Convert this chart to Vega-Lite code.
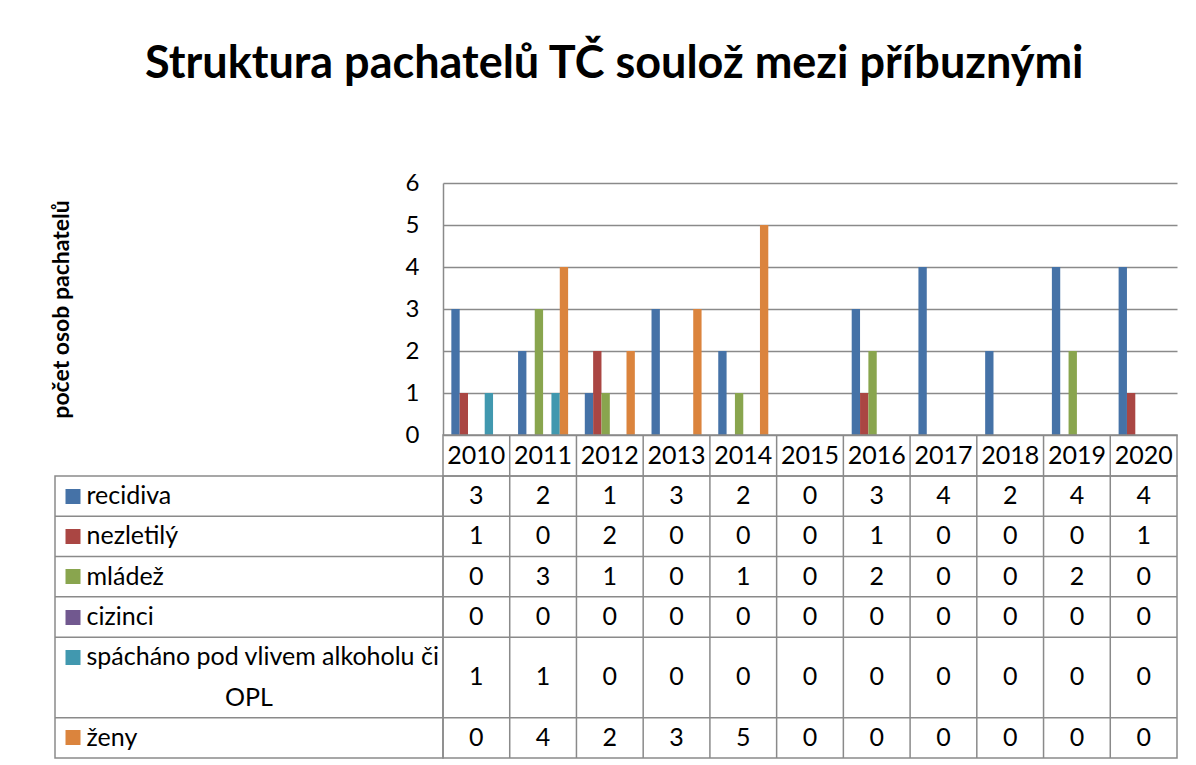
{
  "$schema": "https://vega.github.io/schema/vega-lite/v6.json",
  "padding": {"left": 50, "top": 42, "right": 0, "bottom": 0},
  "title": {"text": "Struktura pachatelů TČ soulož mezi příbuznými", "font": "Lato", "fontSize": 45, "fontWeight": "bold", "color": "#000000", "anchor": "middle", "offset": 84},
  "datasets": {
    "t": [
      {"rok": "2010", "s": "recidiva", "v": 3}, {"rok": "2010", "s": "nezletilý", "v": 1}, {"rok": "2010", "s": "mládež", "v": 0}, {"rok": "2010", "s": "cizinci", "v": 0}, {"rok": "2010", "s": "spácháno pod vlivem alkoholu či OPL", "v": 1}, {"rok": "2010", "s": "ženy", "v": 0},
      {"rok": "2011", "s": "recidiva", "v": 2}, {"rok": "2011", "s": "nezletilý", "v": 0}, {"rok": "2011", "s": "mládež", "v": 3}, {"rok": "2011", "s": "cizinci", "v": 0}, {"rok": "2011", "s": "spácháno pod vlivem alkoholu či OPL", "v": 1}, {"rok": "2011", "s": "ženy", "v": 4},
      {"rok": "2012", "s": "recidiva", "v": 1}, {"rok": "2012", "s": "nezletilý", "v": 2}, {"rok": "2012", "s": "mládež", "v": 1}, {"rok": "2012", "s": "cizinci", "v": 0}, {"rok": "2012", "s": "spácháno pod vlivem alkoholu či OPL", "v": 0}, {"rok": "2012", "s": "ženy", "v": 2},
      {"rok": "2013", "s": "recidiva", "v": 3}, {"rok": "2013", "s": "nezletilý", "v": 0}, {"rok": "2013", "s": "mládež", "v": 0}, {"rok": "2013", "s": "cizinci", "v": 0}, {"rok": "2013", "s": "spácháno pod vlivem alkoholu či OPL", "v": 0}, {"rok": "2013", "s": "ženy", "v": 3},
      {"rok": "2014", "s": "recidiva", "v": 2}, {"rok": "2014", "s": "nezletilý", "v": 0}, {"rok": "2014", "s": "mládež", "v": 1}, {"rok": "2014", "s": "cizinci", "v": 0}, {"rok": "2014", "s": "spácháno pod vlivem alkoholu či OPL", "v": 0}, {"rok": "2014", "s": "ženy", "v": 5},
      {"rok": "2015", "s": "recidiva", "v": 0}, {"rok": "2015", "s": "nezletilý", "v": 0}, {"rok": "2015", "s": "mládež", "v": 0}, {"rok": "2015", "s": "cizinci", "v": 0}, {"rok": "2015", "s": "spácháno pod vlivem alkoholu či OPL", "v": 0}, {"rok": "2015", "s": "ženy", "v": 0},
      {"rok": "2016", "s": "recidiva", "v": 3}, {"rok": "2016", "s": "nezletilý", "v": 1}, {"rok": "2016", "s": "mládež", "v": 2}, {"rok": "2016", "s": "cizinci", "v": 0}, {"rok": "2016", "s": "spácháno pod vlivem alkoholu či OPL", "v": 0}, {"rok": "2016", "s": "ženy", "v": 0},
      {"rok": "2017", "s": "recidiva", "v": 4}, {"rok": "2017", "s": "nezletilý", "v": 0}, {"rok": "2017", "s": "mládež", "v": 0}, {"rok": "2017", "s": "cizinci", "v": 0}, {"rok": "2017", "s": "spácháno pod vlivem alkoholu či OPL", "v": 0}, {"rok": "2017", "s": "ženy", "v": 0},
      {"rok": "2018", "s": "recidiva", "v": 2}, {"rok": "2018", "s": "nezletilý", "v": 0}, {"rok": "2018", "s": "mládež", "v": 0}, {"rok": "2018", "s": "cizinci", "v": 0}, {"rok": "2018", "s": "spácháno pod vlivem alkoholu či OPL", "v": 0}, {"rok": "2018", "s": "ženy", "v": 0},
      {"rok": "2019", "s": "recidiva", "v": 4}, {"rok": "2019", "s": "nezletilý", "v": 0}, {"rok": "2019", "s": "mládež", "v": 2}, {"rok": "2019", "s": "cizinci", "v": 0}, {"rok": "2019", "s": "spácháno pod vlivem alkoholu či OPL", "v": 0}, {"rok": "2019", "s": "ženy", "v": 0},
      {"rok": "2020", "s": "recidiva", "v": 4}, {"rok": "2020", "s": "nezletilý", "v": 1}, {"rok": "2020", "s": "mládež", "v": 0}, {"rok": "2020", "s": "cizinci", "v": 0}, {"rok": "2020", "s": "spácháno pod vlivem alkoholu či OPL", "v": 0}, {"rok": "2020", "s": "ženy", "v": 0}
    ]
  },
  "columns": 2,
  "spacing": 0,
  "bounds": "flush",
  "concat": [
    {
      "width": 388, "height": 252,
      "data": {"values": [{"e": ""}]},
      "mark": {"type": "text"},
      "encoding": {"text": {"field": "e"}}
    },
    {
      "width": 734, "height": 252,
      "data": {"name": "t"},
      "mark": {"type": "bar"},
      "encoding": {
        "x": {"field": "rok", "type": "nominal", "scale": {"paddingInner": 0.25, "paddingOuter": 0.125}, "axis": null},
        "xOffset": {"field": "s", "type": "nominal", "scale": {"domain": ["recidiva", "nezletilý", "mládež", "cizinci", "spácháno pod vlivem alkoholu či OPL", "ženy"], "paddingInner": 0, "paddingOuter": 0}},
        "y": {"field": "v", "type": "quantitative", "scale": {"domain": [0, 6], "nice": false},
          "axis": {"values": [0, 1, 2, 3, 4, 5, 6], "grid": true, "gridColor": "#8a8a8a", "gridWidth": 1.5, "domain": true, "domainColor": "#8a8a8a", "domainWidth": 1.5, "ticks": false, "labelPadding": 24, "labelFont": "Lato", "labelFontSize": 24, "labelColor": "#000000",
            "title": "počet osob pachatelů", "titleFont": "Lato", "titleFontSize": 23, "titleFontWeight": "bold", "titleColor": "#000000", "titlePadding": 332}},
        "color": {"field": "s", "type": "nominal", "legend": null,
          "scale": {"domain": ["recidiva", "nezletilý", "mládež", "cizinci", "spácháno pod vlivem alkoholu či OPL", "ženy"], "range": ["#4572A7", "#AA4643", "#89A54E", "#71588F", "#4198AF", "#DB843D"]}}
      }
    },
    {
      "width": 388, "height": 41,
      "data": {"values": [{"e": ""}]},
      "mark": {"type": "text"},
      "encoding": {"text": {"field": "e"}}
    },
    {
      "width": 734, "height": 41,
      "data": {"name": "t"},
      "transform": [{"filter": "datum.s == 'recidiva'"}],
      "view": {"stroke": "#8a8a8a", "strokeWidth": 1.5},
      "layer": [
        {
          "mark": {"type": "text", "font": "Lato", "fontSize": 25, "color": "#000000"},
          "encoding": {
            "x": {"field": "rok", "type": "nominal", "scale": {"type": "band", "paddingInner": 0, "paddingOuter": 0}, "axis": null},
            "text": {"field": "rok"}
          }
        },
        {
          "transform": [{"filter": "datum.rok != '2010'"}],
          "mark": {"type": "rule", "color": "#8a8a8a", "strokeWidth": 1.5},
          "encoding": {
            "x": {"field": "rok", "type": "nominal", "bandPosition": 0, "scale": {"type": "band", "paddingInner": 0, "paddingOuter": 0}, "axis": null}
          }
        }
      ]
    },
    {
      "width": 388, "height": 282,
      "data": {"name": "t"},
      "transform": [{"filter": "datum.rok == '2010'"}],
      "view": {"stroke": "#8a8a8a", "strokeWidth": 1.5},
      "layer": [
        {
          "transform": [{"filter": "datum.s != 'recidiva'"}],
          "mark": {"type": "rule", "color": "#8a8a8a", "strokeWidth": 1.5},
          "encoding": {
            "y": {"field": "s", "type": "nominal", "bandPosition": 0,
              "scale": {"type": "band", "domain": ["recidiva", "nezletilý", "mládež", "cizinci", "spácháno pod vlivem alkoholu či OPL", "OPL", "ženy"], "paddingInner": 0, "paddingOuter": 0},
              "axis": {"orient": "left", "offset": -25, "bandPosition": 0.5, "domain": false, "grid": false, "ticks": true, "tickSize": 15, "tickWidth": 15, "tickCap": "butt",
                "tickColor": {"condition": [
                  {"test": "datum.value === 'recidiva'", "value": "#4572A7"},
                  {"test": "datum.value === 'nezletilý'", "value": "#AA4643"},
                  {"test": "datum.value === 'mládež'", "value": "#89A54E"},
                  {"test": "datum.value === 'cizinci'", "value": "#71588F"},
                  {"test": "datum.value === 'spácháno pod vlivem alkoholu či OPL'", "value": "#4198AF"},
                  {"test": "datum.value === 'ženy'", "value": "#DB843D"}
                ], "value": "transparent"},
                "labelAlign": "left", "labelBaseline": "middle", "labelPadding": -21, "labelFont": "Lato", "labelFontSize": 25, "labelColor": "#000000", "labelLimit": 420, "labelOverlap": false,
                "labelExpr": "datum.value === 'spácháno pod vlivem alkoholu či OPL' ? 'spácháno pod vlivem alkoholu či' : datum.value === 'OPL' ? '' : datum.label",
                "title": null}
            }
          }
        },
        {
          "transform": [{"filter": "datum.s == 'spácháno pod vlivem alkoholu či OPL'"}],
          "mark": {"type": "text", "font": "Lato", "fontSize": 25, "color": "#000000"},
          "encoding": {
            "y": {"field": "s", "type": "nominal", "bandPosition": 1.5,
              "scale": {"type": "band", "domain": ["recidiva", "nezletilý", "mládež", "cizinci", "spácháno pod vlivem alkoholu či OPL", "OPL", "ženy"], "paddingInner": 0, "paddingOuter": 0}},
            "text": {"value": "OPL"}
          }
        }
      ]
    },
    {
      "width": 734, "height": 282,
      "data": {"name": "t"},
      "view": {"stroke": "#8a8a8a", "strokeWidth": 1.5},
      "layer": [
        {
          "transform": [{"filter": "datum.s != 'spácháno pod vlivem alkoholu či OPL'"}],
          "mark": {"type": "text", "font": "Lato", "fontSize": 25, "color": "#000000"},
          "encoding": {
            "x": {"field": "rok", "type": "nominal", "scale": {"type": "band", "paddingInner": 0, "paddingOuter": 0}, "axis": null},
            "y": {"field": "s", "type": "nominal", "scale": {"type": "band", "domain": ["recidiva", "nezletilý", "mládež", "cizinci", "spácháno pod vlivem alkoholu či OPL", "OPL", "ženy"], "paddingInner": 0, "paddingOuter": 0}, "axis": null},
            "text": {"field": "v", "type": "quantitative"}
          }
        },
        {
          "transform": [{"filter": "datum.s == 'spácháno pod vlivem alkoholu či OPL'"}],
          "mark": {"type": "text", "font": "Lato", "fontSize": 25, "color": "#000000"},
          "encoding": {
            "x": {"field": "rok", "type": "nominal", "scale": {"type": "band", "paddingInner": 0, "paddingOuter": 0}, "axis": null},
            "y": {"field": "s", "type": "nominal", "bandPosition": 1, "scale": {"type": "band", "domain": ["recidiva", "nezletilý", "mládež", "cizinci", "spácháno pod vlivem alkoholu či OPL", "OPL", "ženy"], "paddingInner": 0, "paddingOuter": 0}, "axis": null},
            "text": {"field": "v", "type": "quantitative"}
          }
        },
        {
          "transform": [{"filter": "datum.rok == '2010' && datum.s != 'recidiva'"}],
          "mark": {"type": "rule", "color": "#8a8a8a", "strokeWidth": 1.5},
          "encoding": {
            "y": {"field": "s", "type": "nominal", "bandPosition": 0, "scale": {"type": "band", "domain": ["recidiva", "nezletilý", "mládež", "cizinci", "spácháno pod vlivem alkoholu či OPL", "OPL", "ženy"], "paddingInner": 0, "paddingOuter": 0}, "axis": null}
          }
        },
        {
          "transform": [{"filter": "datum.s == 'recidiva' && datum.rok != '2010'"}],
          "mark": {"type": "rule", "color": "#8a8a8a", "strokeWidth": 1.5},
          "encoding": {
            "x": {"field": "rok", "type": "nominal", "bandPosition": 0, "scale": {"type": "band", "paddingInner": 0, "paddingOuter": 0}, "axis": null}
          }
        }
      ]
    }
  ],
  "config": {"view": {"stroke": null}, "font": "Lato"}
}
